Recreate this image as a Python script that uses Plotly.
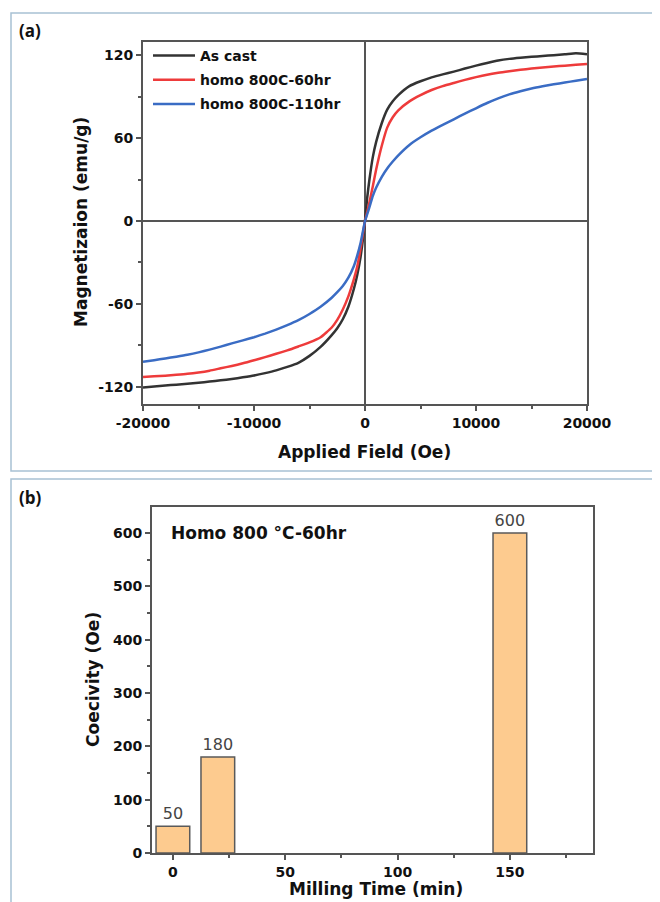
import plotly.graph_objects as go

# ---------------- data ----------------
field_oe = [-20000, -19000, -18000, -17000, -16000, -15000, -14000, -13000, -12000, -11000,
            -10000, -9000, -8000, -7000, -6000, -5000, -4000, -3000,
            -2500, -2000, -1500, -1000, -700, -400, -200, 0, 200, 400, 700, 1000, 1500, 2000, 2500,
            3000, 4000, 5000, 6000, 7000, 8000, 9000, 10000, 11000, 12000, 13000, 14000,
            15000, 16000, 17000, 18000, 19000, 20000]
m_as_cast = [-120.3, -119.7, -119, -118.3, -117.6, -116.9, -116.1, -115.2, -114.2, -113,
             -111.7, -110, -108, -105.5, -102.5, -97.5, -91, -82.5,
             -77.5, -71, -62, -49, -39, -26, -14, 0, 17, 30, 46, 57, 70.5, 80.5, 86.5,
             91, 97.5, 101, 103.8, 106, 108, 110.2, 112.3, 114.2, 116, 117.2, 118,
             118.7, 119.3, 119.9, 120.5, 121.3, 120.6]
m_homo_60 = [-112.8, -112.3, -111.8, -111.2, -110.5, -109.5, -108.2, -106.5, -104.8, -102.9,
             -100.7, -98.4, -96, -93.5, -90.7, -87.8, -84, -77,
             -71.5, -64, -54.5, -42, -33, -20, -10, 0, 6.5, 13.5, 25, 37, 54, 67.5, 75,
             80, 86.5, 91, 94.7, 97.5, 99.8, 102, 104, 105.8, 107.2, 108.3, 109.3,
             110.2, 111, 111.7, 112.3, 112.9, 113.5]
m_homo_110 = [-101.7, -100.6, -99.4, -98.1, -96.7, -95, -93, -90.8, -88.5, -86.3,
              -84, -81.4, -78.5, -75.3, -71.7, -67.2, -62, -55.5,
              -51.5, -47, -41, -32.5, -25, -16, -8, 0, 5, 10, 18, 24, 31.8, 38, 43,
              47.5, 55, 60.5, 65.3, 69.5, 73.5, 77.6, 81.5, 85.3, 88.7, 91.5, 93.8,
              95.8, 97.4, 98.8, 100.1, 101.4, 102.7]
series_names = ["As cast", "homo 800C-60hr", "homo 800C-110hr"]
series_colors = ["#333333", "#ee3b3b", "#3a6cc4"]

field_ticks = [-20000, -10000, 0, 10000, 20000]
field_ticktext = ["-20000", "-10000", "0", "10000", "20000"]
m_ticks = [-120, -60, 0, 60, 120]
m_ticktext = ["-120", "-60", "0", "60", "120"]

milling_time = [0, 20, 150]
coercivity = [50, 180, 600]
coercivity_labels = ["50", "180", "600"]
time_ticks = [0, 50, 100, 150]
hc_ticks = [0, 100, 200, 300, 400, 500, 600]

# page has an 8px body margin; size the figure so it fills the 660x902 window exactly
OFF = 8
W, H = 660 - OFF, 902 - OFF

def px(x):
    return (x - OFF) / W

def py(y):
    return 1 - (y - OFF) / H

fig = go.Figure()

for i, (name, col, ys) in enumerate(zip(series_names, series_colors,
                                        [m_as_cast, m_homo_60, m_homo_110])):
    fig.add_trace(go.Scatter(x=field_oe, y=ys, mode="lines", name=name, legendgroup=f"g{i}",
                             line=dict(color=col, width=2.5, shape="spline", smoothing=0.5),
                             xaxis="x", yaxis="y"))

fig.add_trace(go.Bar(x=milling_time, y=coercivity, width=15, text=coercivity_labels,
                     textposition="outside", cliponaxis=False,
                     textfont=dict(family="DejaVu Sans", size=16, color="#444444"),
                     marker=dict(color="#fdcb8f", line=dict(color="#5a5a5a", width=1.5)),
                     showlegend=False, xaxis="x2", yaxis="y2"))

tick_font = dict(family="DejaVu Sans", size=14, color="#111111", weight="bold")
axis_common = dict(showline=True, mirror=True, linecolor="#555555", linewidth=2,
                   ticks="outside", ticklen=5, tickwidth=1.5, tickcolor="#555555",
                   showgrid=False, tickfont=tick_font, automargin=False)

fig.update_layout(
    width=W, height=H, autosize=False,
    margin=dict(l=0, r=0, t=0, b=0, pad=0, autoexpand=False),
    paper_bgcolor="white", plot_bgcolor="white",
    showlegend=True,
    legend=dict(x=px(148), y=py(40), xanchor="left", yanchor="top",
                bgcolor="rgba(0,0,0,0)", borderwidth=0,
                font=dict(family="DejaVu Sans", size=14, color="#111111", weight="bold"),
                tracegroupgap=3, itemwidth=42),
    xaxis=dict(domain=[px(143), px(587)], range=[-20000, 20000], anchor="y",
               tickvals=field_ticks, ticktext=field_ticktext,
               minor=dict(ticks="outside", ticklen=3, tickcolor="#555555", dtick=5000, tick0=0, showgrid=False),
               zeroline=True, zerolinecolor="#555555", zerolinewidth=1.5, **axis_common),
    yaxis=dict(domain=[py(404), py(42)], range=[-132.3, 129.4], anchor="x",
               tickvals=m_ticks, ticktext=m_ticktext,
               minor=dict(ticks="outside", ticklen=3, tickcolor="#555555", dtick=30, tick0=0, showgrid=False),
               zeroline=True, zerolinecolor="#555555", zerolinewidth=1.5, **axis_common),
    xaxis2=dict(domain=[px(152), px(593)], range=[-9.3, 187], anchor="y2",
                tickvals=time_ticks,
                minor=dict(ticks="outside", ticklen=3, tickcolor="#555555", dtick=25, tick0=0, showgrid=False),
                zeroline=False, **axis_common),
    yaxis2=dict(domain=[py(853), py(507)], range=[0, 649], anchor="x2",
                tickvals=hc_ticks,
                minor=dict(ticks="outside", ticklen=3, tickcolor="#555555", dtick=50, tick0=0, showgrid=False),
                zeroline=False, **axis_common),
)

title_font = dict(family="DejaVu Sans", size=17, color="#111111", weight="bold")
label_font = dict(family="Open Sans", size=17, color="#111111", weight=700)
ann = [
    dict(text="(a)", x=px(17), y=py(30), xanchor="left", yanchor="middle", font=label_font),
    dict(text="(b)", x=px(17), y=py(497), xanchor="left", yanchor="middle", font=label_font),
    dict(text="Magnetizaion (emu/g)", x=px(81), y=py(222), textangle=-90,
         xanchor="center", yanchor="middle", font=title_font),
    dict(text="Applied Field (Oe)", x=px(365), y=py(452), xanchor="center", yanchor="middle",
         font=title_font),
    dict(text="Coecivity (Oe)", x=px(93), y=py(680), textangle=-90,
         xanchor="center", yanchor="middle", font=title_font),
    dict(text="Milling Time (min)", x=px(376), y=py(889), xanchor="center", yanchor="middle",
         font=title_font),
    dict(text="Homo 800 °C-60hr", x=px(169), y=py(533), xanchor="left", yanchor="middle",
         font=title_font),
]
for a in ann:
    a.update(xref="paper", yref="paper", showarrow=False)
fig.update_layout(annotations=ann)

border = "#a8c1d4"
fig.update_layout(shapes=[
    dict(type="rect", xref="paper", yref="paper", x0=px(11), x1=px(700), y0=py(471), y1=py(13),
         line=dict(color=border, width=1.5), fillcolor="rgba(0,0,0,0)", layer="below"),
    dict(type="rect", xref="paper", yref="paper", x0=px(11), x1=px(700), y0=py(940), y1=py(479),
         line=dict(color=border, width=1.5), fillcolor="rgba(0,0,0,0)", layer="below"),
])

fig.write_html("out.html", config={"responsive": False})
